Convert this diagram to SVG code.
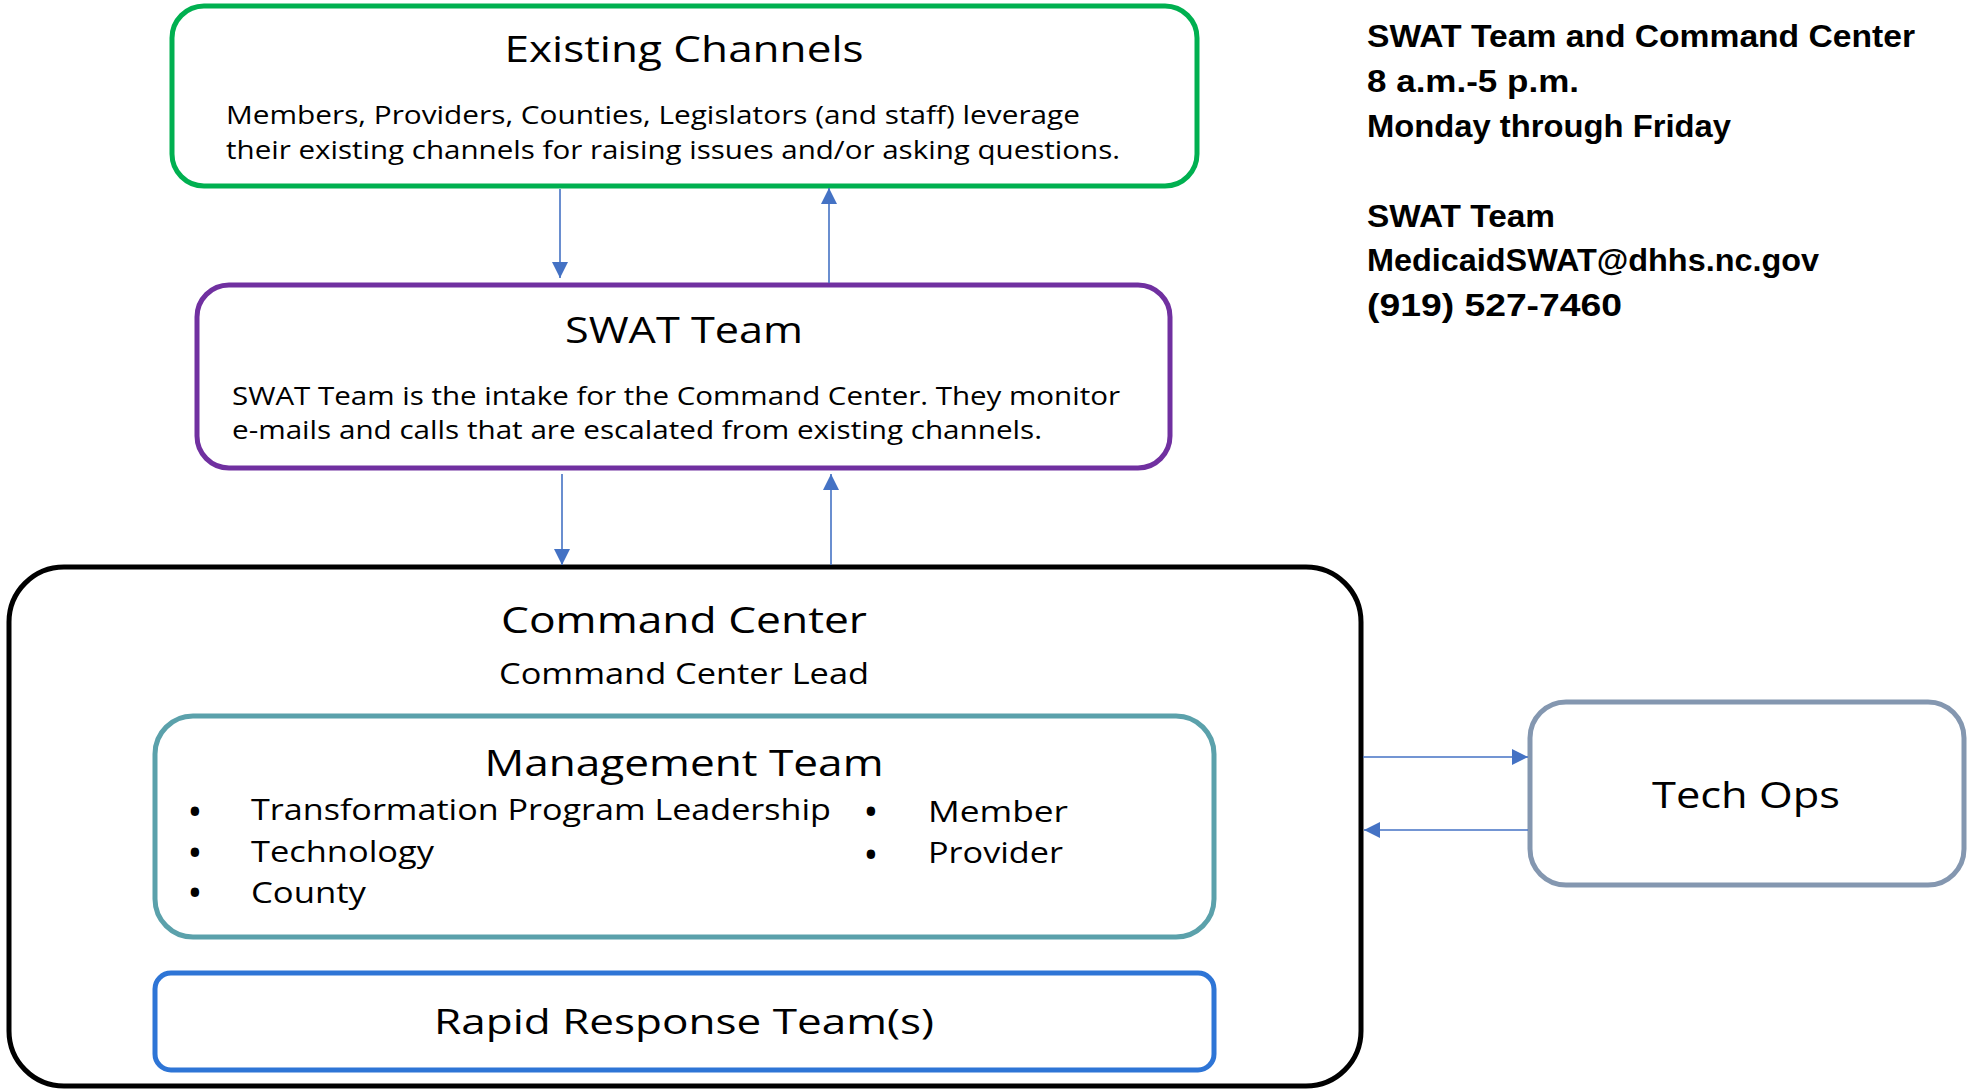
<svg xmlns="http://www.w3.org/2000/svg" width="1967" height="1090" viewBox="0 0 1967 1090">
<defs>
<style>
.box{fill:#ffffff}
.t{font-family:"Open Sans","Noto Sans","Liberation Sans",sans-serif;fill:#000;text-anchor:middle}
.b{font-family:"Open Sans","Noto Sans","Liberation Sans",sans-serif;fill:#000}
.dot{font-family:"Open Sans","Noto Sans","Liberation Sans",sans-serif;fill:#000;text-anchor:middle;font-size:30px;font-weight:bold}
.r{font-family:"Liberation Sans",Arial,sans-serif;font-weight:bold;fill:#000;font-size:31px}
.c{stroke:#4472C4;stroke-width:1.6;fill:none}
</style>
<marker id="ah" viewBox="0 0 10 10" refX="10" refY="5" markerWidth="16" markerHeight="16" markerUnits="userSpaceOnUse" orient="auto">
<path d="M0,0 L10,5 L0,10 z" fill="#4472C4"/>
</marker>
</defs>
<rect width="1967" height="1090" fill="#ffffff"/>

<g id="existing-channels">
<rect class="box" x="172" y="6" width="1025" height="180" rx="32" ry="32" stroke="#00B050" stroke-width="5"/>
<text class="t" x="684" y="62" font-size="37" textLength="359" lengthAdjust="spacingAndGlyphs">Existing Channels</text>
<text class="b" x="226" y="124" font-size="25.5" textLength="854" lengthAdjust="spacingAndGlyphs">Members, Providers, Counties, Legislators (and staff) leverage</text>
<text class="b" x="226" y="159" font-size="25.5" textLength="894" lengthAdjust="spacingAndGlyphs">their existing channels for raising issues and/or asking questions.</text>
</g>

<g id="swat-team">
<rect class="box" x="197" y="285" width="973" height="183" rx="32" ry="32" stroke="#7030A0" stroke-width="5"/>
<text class="t" x="684" y="343" font-size="37" textLength="238" lengthAdjust="spacingAndGlyphs">SWAT Team</text>
<text class="b" x="232" y="405" font-size="25.5" textLength="888" lengthAdjust="spacingAndGlyphs">SWAT Team is the intake for the Command Center. They monitor</text>
<text class="b" x="232" y="439" font-size="25.5" textLength="810" lengthAdjust="spacingAndGlyphs">e-mails and calls that are escalated from existing channels.</text>
</g>

<g id="command-center">
<rect class="box" x="9" y="567" width="1352" height="519" rx="55" ry="55" stroke="#000000" stroke-width="5"/>
<text class="t" x="684" y="633" font-size="37" textLength="366" lengthAdjust="spacingAndGlyphs">Command Center</text>
<text class="t" x="684" y="684" font-size="29" textLength="370" lengthAdjust="spacingAndGlyphs">Command Center Lead</text>
</g>

<g id="management-team">
<rect class="box" x="155" y="716" width="1059" height="221" rx="38" ry="38" stroke="#5BA1AB" stroke-width="5"/>
<text class="t" x="684" y="776" font-size="37" textLength="399" lengthAdjust="spacingAndGlyphs">Management Team</text>
<text class="dot" x="195" y="822">•</text>
<text class="b" x="251" y="820" font-size="29" textLength="580" lengthAdjust="spacingAndGlyphs">Transformation Program Leadership</text>
<text class="dot" x="195" y="863">•</text>
<text class="b" x="251" y="862" font-size="29" textLength="183" lengthAdjust="spacingAndGlyphs">Technology</text>
<text class="dot" x="195" y="903">•</text>
<text class="b" x="251" y="903" font-size="29" textLength="115" lengthAdjust="spacingAndGlyphs">County</text>
<text class="dot" x="871" y="822">•</text>
<text class="b" x="928" y="822" font-size="29" textLength="140" lengthAdjust="spacingAndGlyphs">Member</text>
<text class="dot" x="871" y="865">•</text>
<text class="b" x="928" y="863" font-size="29" textLength="135" lengthAdjust="spacingAndGlyphs">Provider</text>
</g>

<g id="rapid-response">
<rect class="box" x="155" y="973" width="1059" height="97" rx="16" ry="16" stroke="#2E75D6" stroke-width="5"/>
<text class="t" x="684" y="1034" font-size="35" textLength="500" lengthAdjust="spacingAndGlyphs">Rapid Response Team(s)</text>
</g>

<g id="tech-ops">
<rect class="box" x="1530" y="702" width="434" height="183" rx="36" ry="36" stroke="#8497B0" stroke-width="5"/>
<text class="t" x="1746" y="808" font-size="37" textLength="188" lengthAdjust="spacingAndGlyphs">Tech Ops</text>
</g>

<g id="info-text">
<text class="r" x="1367" y="47" textLength="548" lengthAdjust="spacingAndGlyphs">SWAT Team and Command Center</text>
<text class="r" x="1367" y="92" textLength="212" lengthAdjust="spacingAndGlyphs">8 a.m.-5 p.m.</text>
<text class="r" x="1367" y="137" textLength="364" lengthAdjust="spacingAndGlyphs">Monday through Friday</text>
<text class="r" x="1367" y="227" textLength="188" lengthAdjust="spacingAndGlyphs">SWAT Team</text>
<text class="r" x="1367" y="271" textLength="452" lengthAdjust="spacingAndGlyphs">MedicaidSWAT@dhhs.nc.gov</text>
<text class="r" x="1367" y="316" textLength="255" lengthAdjust="spacingAndGlyphs">(919) 527-7460</text>
</g>

<g id="connectors">
<line class="c" x1="560" y1="189" x2="560" y2="278" marker-end="url(#ah)"/>
<line class="c" x1="829" y1="283" x2="829" y2="188" marker-end="url(#ah)"/>
<line class="c" x1="562" y1="474" x2="562" y2="565" marker-end="url(#ah)"/>
<line class="c" x1="831" y1="565" x2="831" y2="474" marker-end="url(#ah)"/>
<line class="c" x1="1363" y1="757" x2="1528" y2="757" marker-end="url(#ah)"/>
<line class="c" x1="1528" y1="830" x2="1364" y2="830" marker-end="url(#ah)"/>
</g>
</svg>
